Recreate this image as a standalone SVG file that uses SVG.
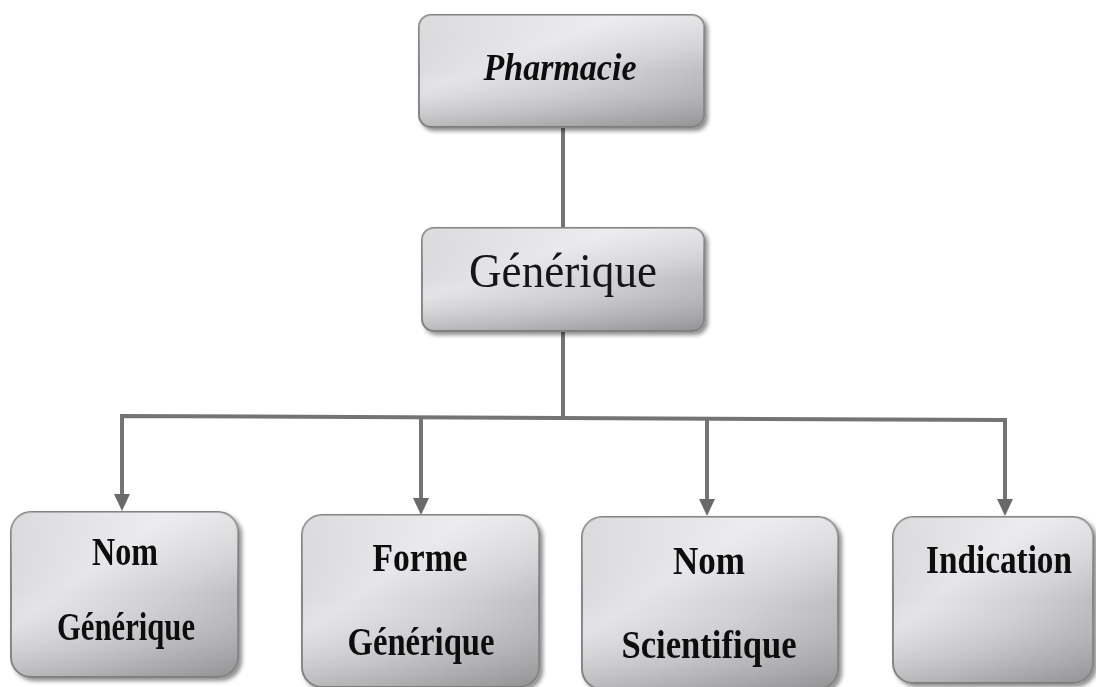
<svg xmlns="http://www.w3.org/2000/svg" width="1096" height="687" viewBox="0 0 1096 687">
  <defs>
    <!-- silver bevelled fill shared by all boxes -->
    <linearGradient id="silver" x1="0" y1="0" x2="1" y2="1">
      <stop offset="0" stop-color="#c9c9cc"/>
      <stop offset="0.35" stop-color="#e4e4e8"/>
      <stop offset="0.6" stop-color="#cfcfd3"/>
      <stop offset="1" stop-color="#a2a2a6"/>
    </linearGradient>
    <linearGradient id="sheen" x1="0" y1="0" x2="0" y2="1">
      <stop offset="0" stop-color="#ffffff" stop-opacity="0.35"/>
      <stop offset="0.5" stop-color="#ffffff" stop-opacity="0"/>
      <stop offset="1" stop-color="#6a6a6a" stop-opacity="0.28"/>
    </linearGradient>
    <filter id="shadow" x="-10%" y="-10%" width="125%" height="125%">
      <feGaussianBlur in="SourceAlpha" stdDeviation="2"/>
      <feOffset dx="3" dy="3" result="b"/>
      <feComponentTransfer><feFuncA type="linear" slope="0.45"/></feComponentTransfer>
      <feMerge><feMergeNode/><feMergeNode in="SourceGraphic"/></feMerge>
    </filter>
  </defs>
  <style>
    .box { fill: url(#silver); stroke: #858585; stroke-width: 2; }
    .gloss { fill: url(#sheen); stroke: none; }
    .link { fill: none; stroke: #747474; stroke-width: 4; stroke-linejoin: miter; }
    .head { fill: #6a6a6a; }
    .lbl { font-family: "Liberation Serif", "Times New Roman", serif; font-weight: bold; font-size: 40px; fill: #111; text-anchor: middle; }
  </style>

  <rect width="1096" height="687" fill="#ffffff"/>

  <!-- connectors -->
  <g id="connectors">
    <line class="link" x1="563" y1="128" x2="563" y2="228"/>
    <line class="link" x1="563" y1="332" x2="563" y2="418"/>
    <polyline class="link" points="122,494 122,416 1005,420 1005,499"/>
    <line class="link" x1="421" y1="417" x2="421" y2="498"/>
    <line class="link" x1="707" y1="419" x2="707" y2="499"/>
    <path class="head" d="M114,494 L130,494 L122,511 Z"/>
    <path class="head" d="M413,498 L429,498 L421,515 Z"/>
    <path class="head" d="M699,499 L715,499 L707,516 Z"/>
    <path class="head" d="M997,499 L1013,499 L1005,516 Z"/>
  </g>

  <!-- top node -->
  <g id="pharmacie" filter="url(#shadow)">
    <rect class="box" x="419" y="15" width="285" height="112" rx="12"/>
    <rect class="gloss" x="419" y="15" width="285" height="112" rx="12"/>
    <text x="560" y="80" font-family="Liberation Serif, Times New Roman, serif" font-style="italic" font-weight="bold" font-size="38" fill="#111" text-anchor="middle" textLength="153" lengthAdjust="spacingAndGlyphs">Pharmacie</text>
  </g>

  <!-- middle node -->
  <g id="generique" filter="url(#shadow)">
    <rect class="box" x="422" y="228" width="282" height="103" rx="12"/>
    <rect class="gloss" x="422" y="228" width="282" height="103" rx="12"/>
    <text x="563" y="287" font-family="Liberation Serif, Times New Roman, serif" font-size="48" fill="#151515" text-anchor="middle" textLength="188" lengthAdjust="spacingAndGlyphs">Générique</text>
  </g>

  <!-- leaf nodes -->
  <g id="nom-generique" filter="url(#shadow)">
    <rect class="box" x="11" y="512" width="227" height="165" rx="20"/>
    <rect class="gloss" x="11" y="512" width="227" height="165" rx="20"/>
    <text class="lbl" x="125" y="565" font-size="36" textLength="66" lengthAdjust="spacingAndGlyphs">Nom</text>
    <text class="lbl" x="126" y="640" font-size="36" textLength="138" lengthAdjust="spacingAndGlyphs">Générique</text>
  </g>

  <g id="forme-generique" filter="url(#shadow)">
    <rect class="box" x="302" y="515" width="237" height="172" rx="20"/>
    <rect class="gloss" x="302" y="515" width="237" height="172" rx="20"/>
    <text class="lbl" x="420" y="571" textLength="95" lengthAdjust="spacingAndGlyphs">Forme</text>
    <text class="lbl" x="421" y="655" textLength="147" lengthAdjust="spacingAndGlyphs">Générique</text>
  </g>

  <g id="nom-scientifique" filter="url(#shadow)">
    <rect class="box" x="582" y="517" width="256" height="172" rx="20"/>
    <rect class="gloss" x="582" y="517" width="256" height="172" rx="20"/>
    <text class="lbl" x="709" y="574" textLength="72" lengthAdjust="spacingAndGlyphs">Nom</text>
    <text class="lbl" x="709" y="658" textLength="175" lengthAdjust="spacingAndGlyphs">Scientifique</text>
  </g>

  <g id="indication" filter="url(#shadow)">
    <rect class="box" x="893" y="517" width="200" height="166" rx="20"/>
    <rect class="gloss" x="893" y="517" width="200" height="166" rx="20"/>
    <text class="lbl" x="999" y="573" font-size="36" textLength="146" lengthAdjust="spacingAndGlyphs">Indication</text>
  </g>
</svg>
